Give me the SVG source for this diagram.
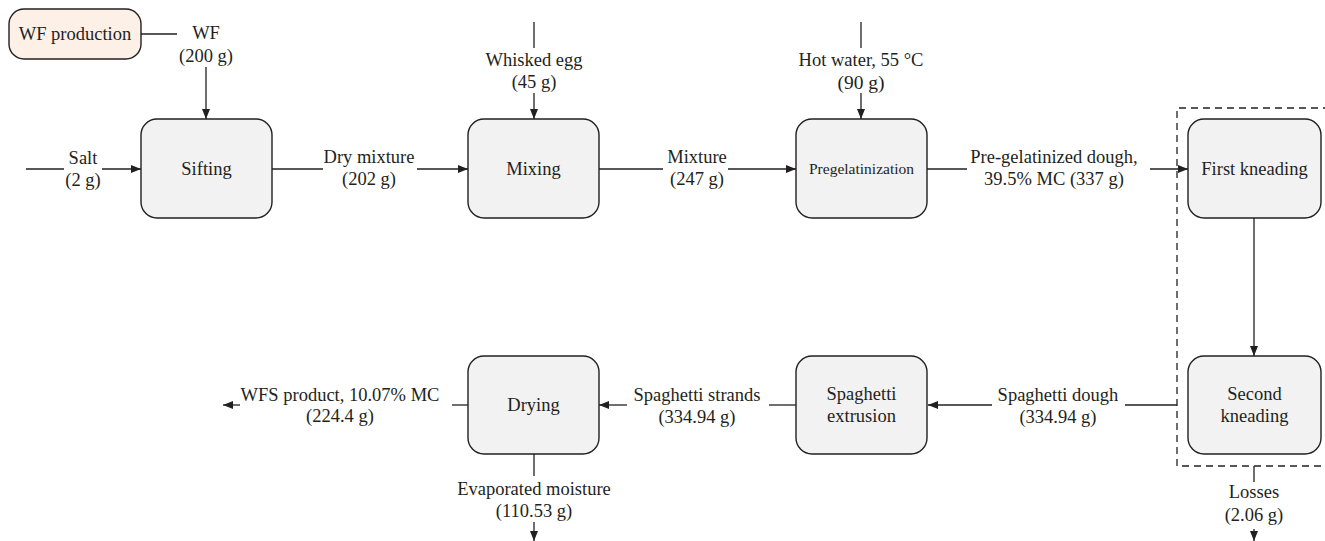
<svg xmlns="http://www.w3.org/2000/svg" width="1325" height="541" viewBox="0 0 1325 541">
<style>
.box{fill:#f2f2f2;stroke:#231f20;stroke-width:1.4}
.src{fill:#fdf0e6;stroke:#231f20;stroke-width:1.4}
.ln{stroke:#231f20;stroke-width:1.3;fill:none}
.ar{stroke:#231f20;stroke-width:1.3;fill:none;marker-end:url(#ah)}
.dash{stroke:#231f20;stroke-width:1.3;fill:none;stroke-dasharray:7,5}
text{fill:#231f20;text-anchor:middle;font-size:18.5px}
.small{font-size:15.5px}
</style>
<defs>
<marker id="ah" markerUnits="userSpaceOnUse" markerWidth="11" markerHeight="9" refX="10" refY="4" orient="auto">
<path d="M0,0 L10,4 L0,8 z" fill="#231f20"/>
</marker>
</defs>
<rect width="1325" height="541" fill="#ffffff"/>

<g id="connectors">
<path class="dash" d="M1330,108 H1177 V466 H1330"/>
<path class="ln" d="M141,34 H177"/>
<path class="ar" d="M206,67 V119"/>
<path class="ln" d="M26,169 H64"/>
<path class="ar" d="M102,169 H141"/>
<path class="ln" d="M272,169 H323"/>
<path class="ar" d="M417,169 H468"/>
<path class="ln" d="M534,22 V48"/>
<path class="ar" d="M534,93 V119"/>
<path class="ln" d="M599,169 H663"/>
<path class="ar" d="M728,169 H796"/>
<path class="ln" d="M861,22 V48"/>
<path class="ar" d="M861,93 V119"/>
<path class="ln" d="M927,169 H967"/>
<path class="ar" d="M1150,169 H1188"/>
<path class="ar" d="M1254,218 V356"/>
<path class="ln" d="M1177,405 H1125"/>
<path class="ar" d="M992,405 H928"/>
<path class="ln" d="M796,405 H769"/>
<path class="ar" d="M627,405 H599"/>
<path class="ln" d="M468,405 H452"/>
<path class="ar" d="M240,405 H223"/>
<path class="ln" d="M534,454 V476"/>
<path class="ar" d="M534,522 V541"/>
<path class="ln" d="M1254,466 V482"/>
<path class="ar" d="M1254,529 V541"/>
</g>

<g id="labels" font-family="'Liberation Serif', 'DejaVu Serif', serif">
<text x="206" y="39">WF</text>
<text x="206" y="62">(200 g)</text>
<text x="83" y="164">Salt</text>
<text x="83" y="186">(2 g)</text>
<text x="369" y="163">Dry mixture</text>
<text x="369" y="185">(202 g)</text>
<text x="534" y="66">Whisked egg</text>
<text x="534" y="88">(45 g)</text>
<text x="697" y="163">Mixture</text>
<text x="697" y="185">(247 g)</text>
<text x="861" y="66" style="font-size:18.5px">Hot water, 55 °C</text>
<text x="861" y="89" style="font-size:19.5px">(90 g)</text>
<text x="1054" y="163">Pre-gelatinized dough,</text>
<text x="1054" y="185">39.5% MC (337 g)</text>
<text x="1058" y="401">Spaghetti dough</text>
<text x="1058" y="423">(334.94 g)</text>
<text x="697" y="401">Spaghetti strands</text>
<text x="697" y="423">(334.94 g)</text>
<text x="340" y="401">WFS product, 10.07% MC</text>
<text x="340" y="422">(224.4 g)</text>
<text x="534" y="495">Evaporated moisture</text>
<text x="534" y="517">(110.53 g)</text>
<text x="1254" y="498">Losses</text>
<text x="1254" y="521">(2.06 g)</text>
</g>

<g id="wf-production" font-family="'Liberation Serif', 'DejaVu Serif', serif">
<rect class="src" x="9" y="9" width="132" height="50" rx="15"/>
<text x="75" y="40">WF production</text>
</g>
<g id="sifting" font-family="'Liberation Serif', 'DejaVu Serif', serif">
<rect class="box" x="141" y="119" width="131" height="99" rx="16"/>
<text x="206.5" y="175">Sifting</text>
</g>
<g id="mixing" font-family="'Liberation Serif', 'DejaVu Serif', serif">
<rect class="box" x="468" y="119" width="131" height="99" rx="16"/>
<text x="533.5" y="175">Mixing</text>
</g>
<g id="pregelatinization" font-family="'Liberation Serif', 'DejaVu Serif', serif">
<rect class="box" x="796" y="119" width="131" height="99" rx="16"/>
<text class="small" x="861.5" y="174">Pregelatinization</text>
</g>
<g id="first-kneading" font-family="'Liberation Serif', 'DejaVu Serif', serif">
<rect class="box" x="1188" y="119" width="133" height="99" rx="16"/>
<text x="1254.5" y="175">First kneading</text>
</g>
<g id="second-kneading" font-family="'Liberation Serif', 'DejaVu Serif', serif">
<rect class="box" x="1188" y="356" width="133" height="98" rx="16"/>
<text x="1254.5" y="400">Second</text>
<text x="1254.5" y="422">kneading</text>
</g>
<g id="spaghetti-extrusion" font-family="'Liberation Serif', 'DejaVu Serif', serif">
<rect class="box" x="796" y="356" width="131" height="98" rx="16"/>
<text x="861.5" y="400">Spaghetti</text>
<text x="861.5" y="422">extrusion</text>
</g>
<g id="drying" font-family="'Liberation Serif', 'DejaVu Serif', serif">
<rect class="box" x="468" y="356" width="131" height="98" rx="16"/>
<text x="533.5" y="411">Drying</text>
</g>
</svg>
